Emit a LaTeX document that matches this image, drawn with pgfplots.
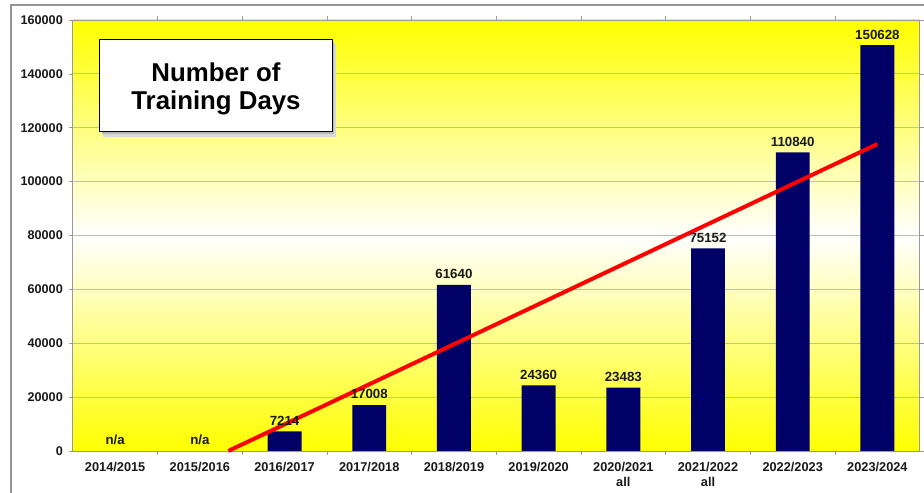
\documentclass[border=0pt]{standalone}
\usepackage{pgfplots}
\pgfplotsset{compat=1.18}
\usepackage{pgfplotstable}
\usepackage{fontspec}
\setmainfont{Liberation Sans}
\definecolor{navy}{RGB}{0,0,102}
\definecolor{framegray}{RGB}{150,150,150}
\definecolor{gridgray}{RGB}{190,190,180}

\pgfplotstableread{
x y lab
0 0 n/a
1 0 n/a
2 7214 7214
3 17008 17008
4 61640 61640
5 24360 24360
6 23483 23483
7 75152 75152
8 110840 110840
9 150628 150628
}\data

\begin{document}
\begin{tikzpicture}
\begin{scope}[x=0.75pt,y=-0.75pt]
\useasboundingbox (0,0) rectangle (924,494);
\fill[white] (0,0) rectangle (924,494);
\draw[framegray, line width=0.8pt] (11,520) -- (11,5) -- (940,5);
\end{scope}
\begin{axis}[
  at={(54.75pt,-339pt)}, anchor=south west,
  scale only axis, width=636.75pt, height=324pt,
  xmin=-0.5, xmax=9.5, ymin=0, ymax=160000,
  axis background/.style={top color=yellow, bottom color=yellow, middle color=white},
  axis line style={gray!80, line width=0.6pt},
  ytick={0,20000,...,160000},
  scaled y ticks=false,
  yticklabel style={/pgf/number format/fixed, /pgf/number format/1000 sep={}, font=\bfseries\fontsize{9.5}{11}\selectfont, text=black!90, xshift=-1pt},
  /pgf/number format/assume math mode=true,
  ymajorgrids, major grid style={gridgray, line width=0.6pt},
  xtick={0,...,9},
  xticklabels={2014/2015,2015/2016,2016/2017,2017/2018,2018/2019,2019/2020,{2020/2021\\all},{2021/2022\\all},2022/2023,2023/2024},
  xticklabel style={align=center, font=\bfseries\fontsize{9.6}{11.25}\selectfont, text=black!90, yshift=-1.8pt},
  minor xtick={0.5,1.5,...,8.5},
  tick align=outside,
  major tick length=3pt, minor tick length=3pt,
  x tick style={draw=none},
  minor x tick style={draw=gray!80},
  y tick style={gray!80},
  every tick/.style={gray!80},
  clip=false,
]
\addplot[ybar, bar width=25.5pt, fill=navy, draw=none,
  skip coords between index={0}{2},
  nodes near coords, point meta=explicit symbolic,
  every node near coord/.append style={font=\bfseries\fontsize{10}{12}\selectfont, text=black!90, yshift=1pt}]
  table[x=x,y=y,meta=lab]{\data};
\addplot[only marks, mark=none, draw=none,
  skip coords between index={2}{10},
  nodes near coords, point meta=explicit symbolic,
  every node near coord/.append style={font=\bfseries\fontsize{10}{12}\selectfont, text=black!90, anchor=south, yshift=1pt}]
  table[x=x,y=y,meta=lab]{\data};
\addplot[red, line width=3pt, sharp plot, no marks] coordinates {(1.337,0) (9,113943)};
\end{axis}
\begin{scope}[x=0.75pt,y=-0.75pt]
\fill[gray!30] (103,44) rectangle (337,137);
\fill[gray!55] (102,42) rectangle (335,134.5);
\draw[fill=white, line width=0.8pt] (100,40) rectangle (333,132);
\node[font=\bfseries\fontsize{19.4}{23}\selectfont] at (216.5,72) {Number of};
\node[font=\bfseries\fontsize{19.4}{23}\selectfont] at (216.5,103) {Training Days};
\end{scope}
\end{tikzpicture}
\end{document}
